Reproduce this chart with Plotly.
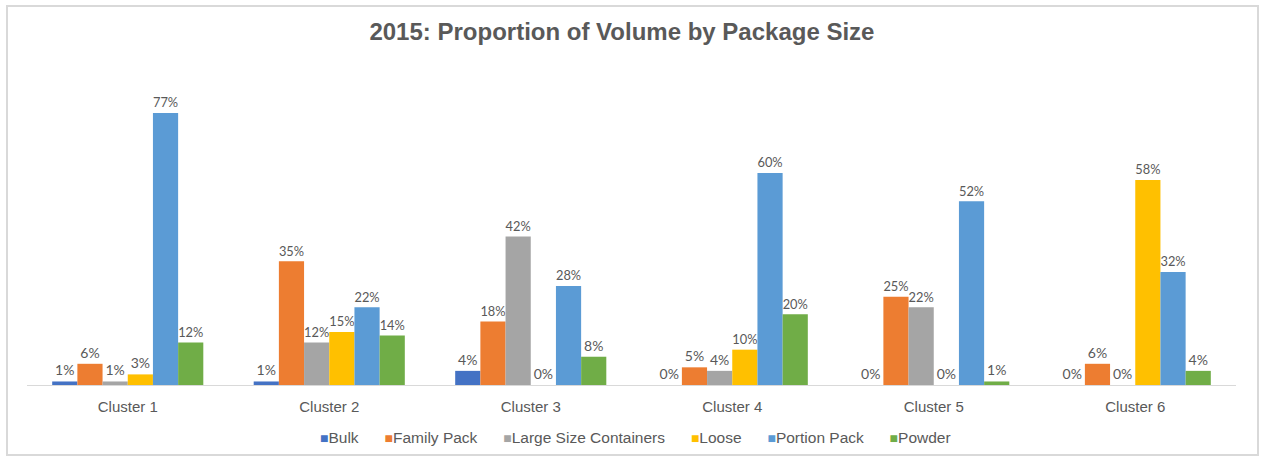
import plotly.graph_objects as go

clusters = ["Cluster 1", "Cluster 2", "Cluster 3", "Cluster 4", "Cluster 5", "Cluster 6"]

bulk = [1, 1, 4, 0, 0, 0]
family_pack = [6, 35, 18, 5, 25, 6]
large_size_containers = [1, 12, 42, 4, 22, 0]
loose = [3, 15, 0, 10, 0, 58]
portion_pack = [77, 22, 28, 60, 52, 32]
powder = [12, 14, 8, 20, 1, 4]

series = [
    ("Bulk", bulk, "#4472C4"),
    ("Family Pack", family_pack, "#ED7D31"),
    ("Large Size Containers", large_size_containers, "#A5A5A5"),
    ("Loose", loose, "#FFC000"),
    ("Portion Pack", portion_pack, "#5B9BD5"),
    ("Powder", powder, "#70AD47"),
]

GRAY = "#595959"
label_font = dict(family="Lato, Open Sans, sans-serif", size=14, color=GRAY)
axis_font = dict(family="Liberation Sans, Arial, sans-serif", size=15, color=GRAY)

W, H = 1266, 462
L, R, T, B = 27, 30, 67, 77
plot_w, plot_h = W - L - R, H - T - B

fig = go.Figure()
for name, values, color in series:
    fig.add_trace(go.Bar(
        name=name,
        x=clusters,
        y=[v / 100 for v in values],
        marker=dict(color=color, line=dict(width=0)),
        text=[f"{v}%" for v in values],
        textposition="outside",
        textfont=label_font,
        cliponaxis=False,
        showlegend=False,
    ))

# compact legend: coloured squares followed by series names
gap = "\u00a0" * 6
legend_text = gap.join(
    f"<span style='color:{color};font-size:14px'>■</span>{name}"
    for name, _, color in series
)

fig.update_layout(
    width=W,
    height=H,
    margin=dict(l=L, r=R, t=T, b=B),
    paper_bgcolor="white",
    plot_bgcolor="white",
    barmode="group",
    bargap=0.25,
    bargroupgap=0,
    title=dict(
        text="<b>2015: Proportion of Volume by Package Size</b>",
        x=623 / W, xanchor="center", xref="paper",
        y=1 - 32 / H, yanchor="middle",
        font=dict(family="Liberation Sans, Arial, sans-serif", size=24, color=GRAY),
    ),
    xaxis=dict(
        showline=True, linecolor="#D9D9D9", linewidth=1,
        ticks="", showgrid=False,
        ticklabelstandoff=8,
        tickfont=axis_font,
    ),
    yaxis=dict(visible=False, range=[0, 0.9], showgrid=False),
    annotations=[dict(
        text=legend_text,
        xref="paper", yref="paper",
        x=(635 - L) / plot_w, xanchor="center",
        y=(H - B - 437) / plot_h, yanchor="middle",
        showarrow=False,
        font=dict(family="Liberation Sans, Arial, sans-serif", size=15.5, color=GRAY),
    )],
    shapes=[dict(
        type="rect", xref="paper", yref="paper",
        x0=(7 - L) / plot_w, x1=(1258 - L) / plot_w,
        y0=(H - B - 455) / plot_h, y1=(H - B - 6) / plot_h,
        line=dict(color="#D9D9D9", width=2),
        fillcolor="rgba(0,0,0,0)",
        layer="below",
    )],
)

fig.write_html("out.html")
